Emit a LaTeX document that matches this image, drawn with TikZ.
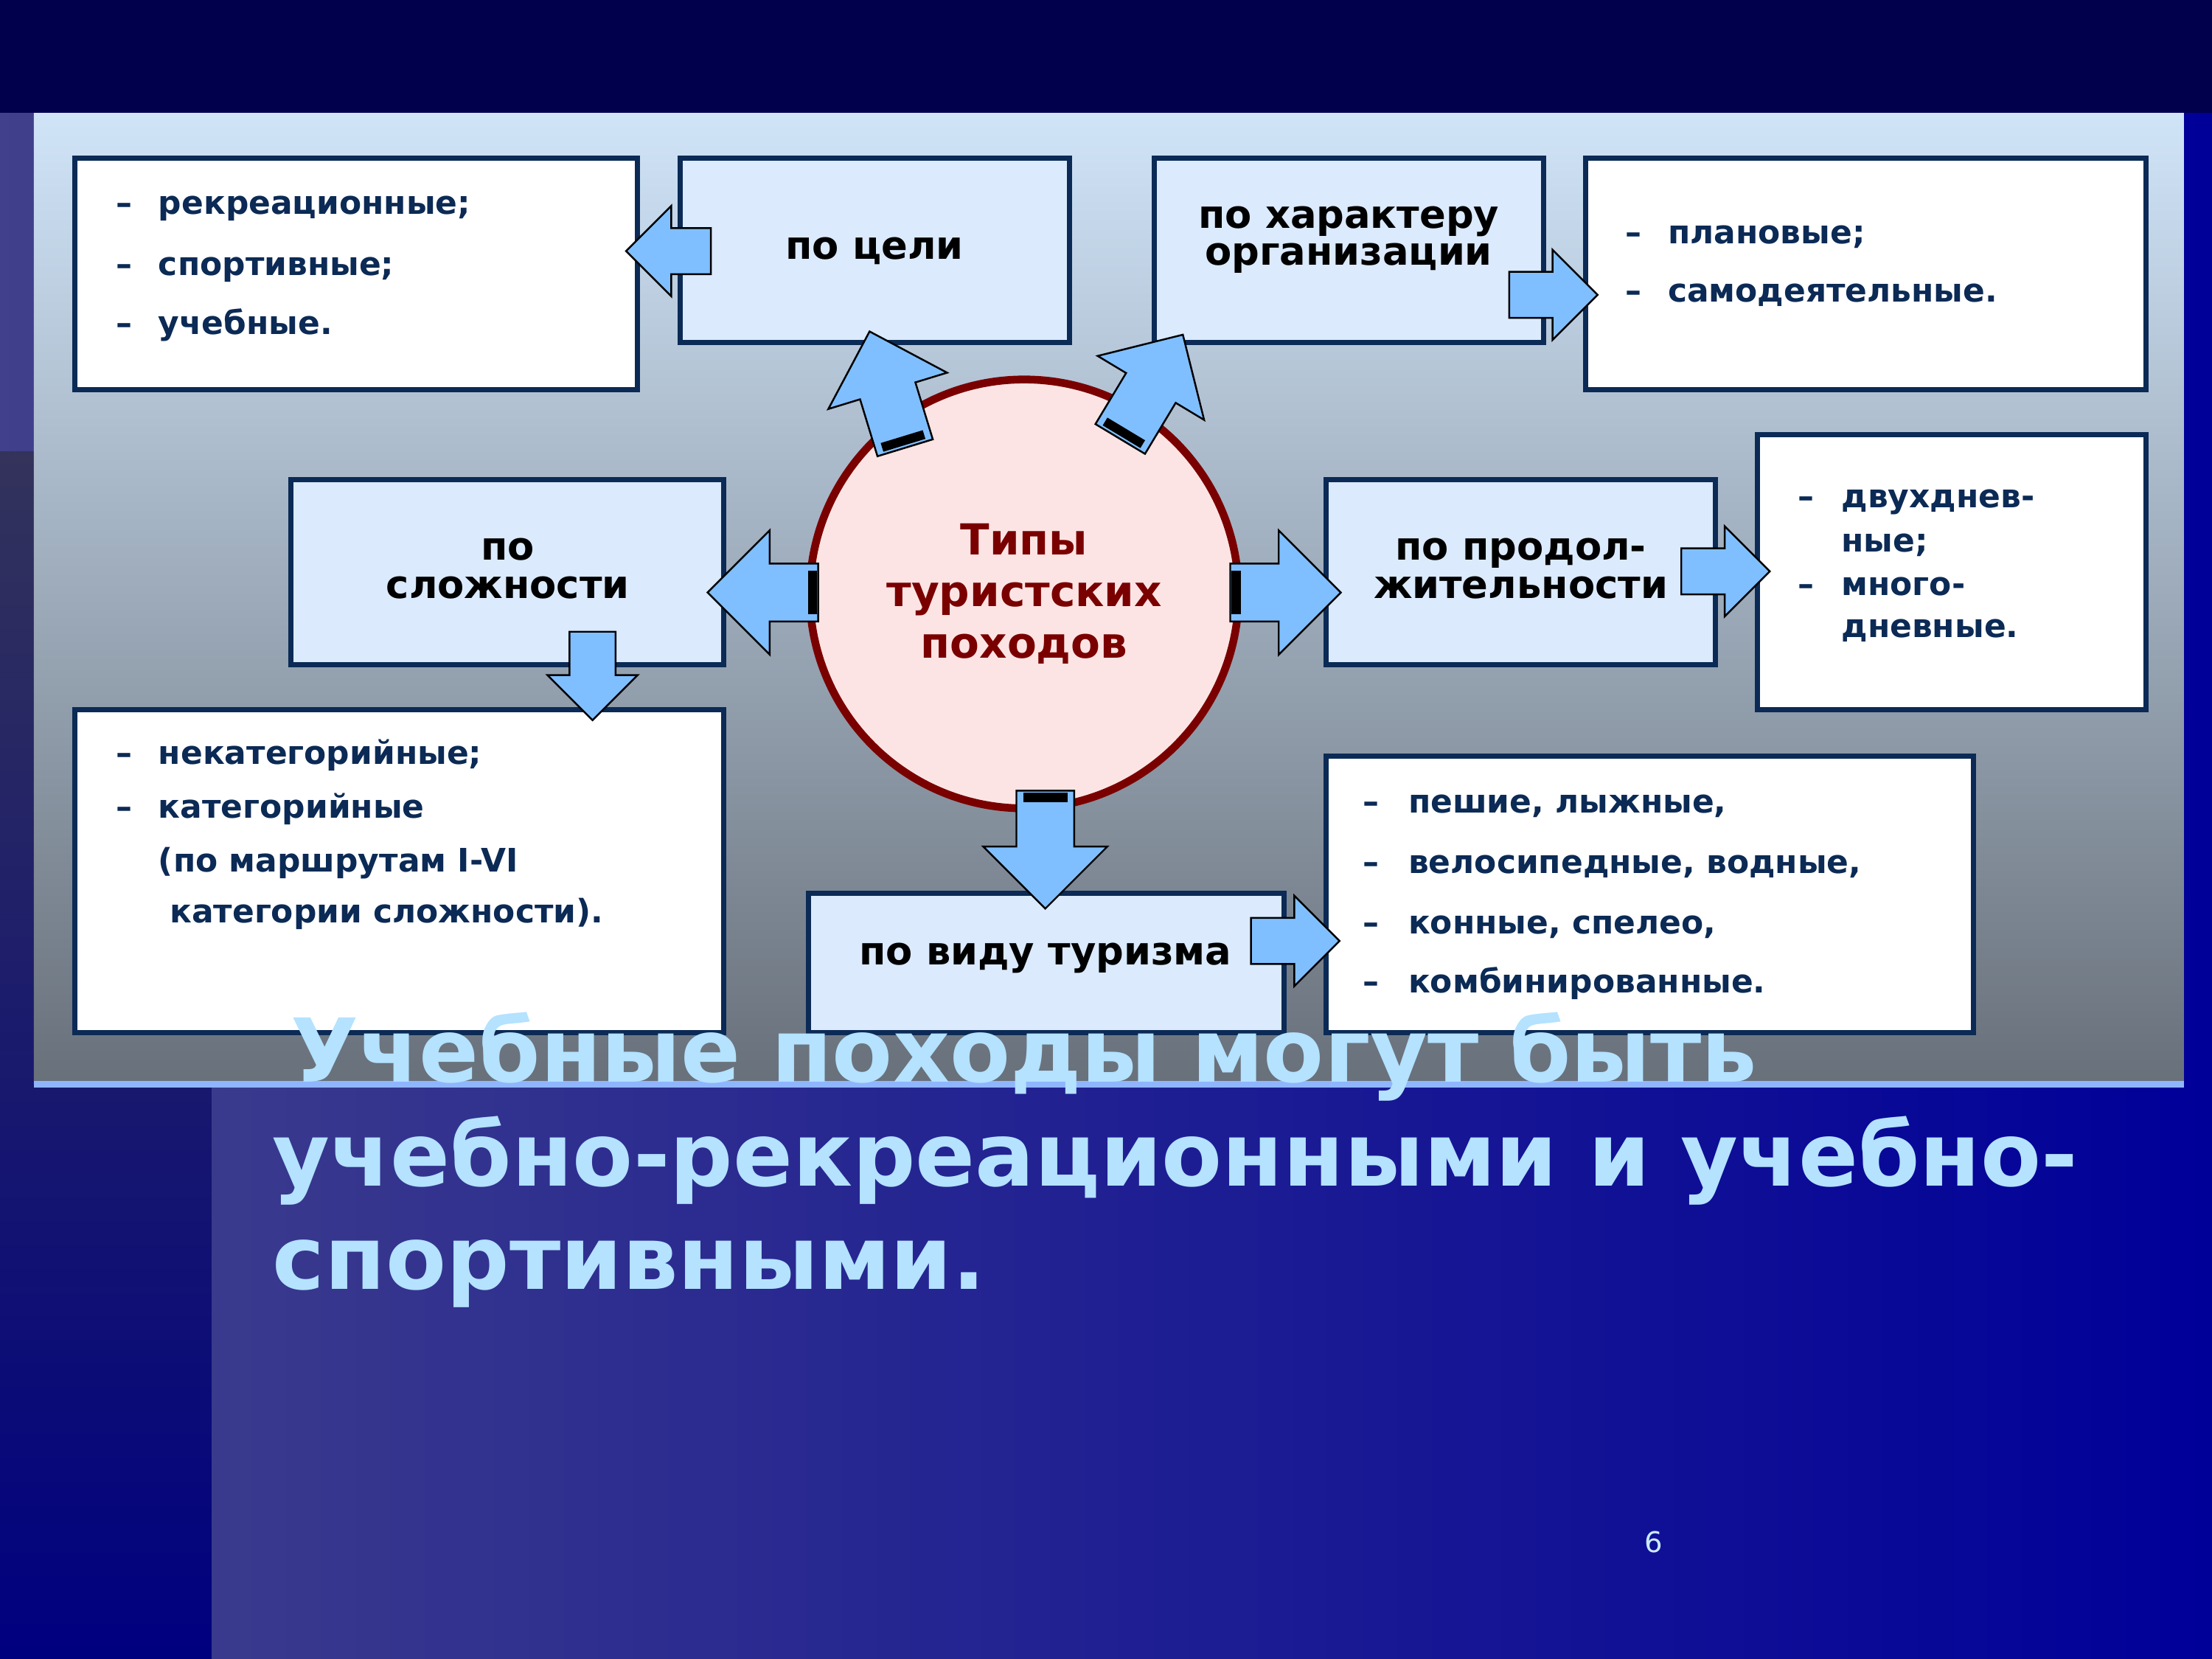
\documentclass[tikz,border=0pt]{standalone}
\usepackage{fontspec}
\setmainfont{DejaVu Sans}
\usetikzlibrary{shapes.arrows,calc}
\definecolor{navy}{HTML}{0B2A55}
\definecolor{boxblue}{HTML}{DBEAFC}
\definecolor{arrowblue}{HTML}{80BFFF}
\definecolor{darkred}{HTML}{7A0000}
\definecolor{titleblue}{HTML}{B4E2FF}
\tikzset{
  head/.style={draw=navy, line width=2pt, fill=boxblue},
  listbox/.style={draw=navy, line width=2pt, fill=white},
  headtext/.style={font=\bfseries\fontsize{15}{17}\selectfont, align=center, text=black},
  entry/.style={anchor=base west, font=\bfseries\fontsize{12.5}{15}\selectfont, text=navy, inner sep=0pt},
  blockarrow/.style={single arrow, draw=black, fill=arrowblue, line width=0.7pt,
    inner sep=0.3cm, single arrow head extend=0.3cm, single arrow head indent=0pt,
    minimum height=#1, outer sep=0pt},
  widearrow/.style={blockarrow=#1, inner sep=0.38cm, single arrow head extend=0.45cm}
}
\begin{document}
\begin{tikzpicture}[x=0.019133cm, y=-0.019133cm]
\useasboundingbox (0,0) rectangle (1568,1176);
% background
\shade[left color=black!60!blue!75, right color=blue!60!black] (0,0) rectangle (1568,1176);
\fill[blue!30!black] (0,0) rectangle (1568,80);
\shade[top color=blue!20!black!80, bottom color=blue!50!black] (0,320) rectangle (150,1176);
% panel
\shade[top color={rgb,255:red,208;green,228;blue,248}, middle color={rgb,255:red,160;green,176;blue,196},
  bottom color={rgb,255:red,104;green,112;blue,122}] (24,80) rectangle (1548,768);
\fill[titleblue!80!blue] (24,766) rectangle (1548,771);

% boxes
\draw[listbox] (53,112) rectangle (452,276);
\draw[head] (482,112) rectangle (758,243);
\node[headtext] (cel) at (620,178) {по цели};
\draw[head] (818,112) rectangle (1094,243);
\node[headtext] (org) at (956,170) {по характеру\\[-3pt]организации};
\draw[listbox] (1124,112) rectangle (1521,276);
\draw[head] (206,340) rectangle (513,471);
\node[headtext] (slo) at (360,403) {по\\[-2pt]сложности};
\draw[head] (940,340) rectangle (1216,471);
\node[headtext] (pro) at (1078,403) {по продол-\\[-2pt]жительности};
\draw[listbox] (1246,308) rectangle (1521,503);
\draw[listbox] (53,503) rectangle (513,732);
\draw[head] (573,633) rectangle (910,732);
\node[headtext] (vid) at (741,679) {по виду туризма};
\draw[listbox] (940,536) rectangle (1399,732);

% centre
\node[circle, draw=darkred, line width=3pt, fill={rgb,255:red,253;green,228;blue,228},
  minimum size=304*0.019133cm, inner sep=0pt, align=center, text=darkred,
  font=\bfseries\fontsize{16.5}{20}\selectfont] (tip) at (726,421) {Типы\\туристских\\походов};

% lists
\foreach \y/\t in {152/рекреационные;, 195/спортивные;, 237/учебные.}
  {\node[entry] at (82,\y) {–}; \node[entry] at (112,\y) {\t};}
\foreach \y/\t in {173/плановые;, 214/самодеятельные.}
  {\node[entry] at (1152,\y) {–}; \node[entry] at (1182,\y) {\t};}
\node[entry] at (1274,360) {–}; \node[entry] at (1305,360) {двухднев-};
\node[entry] at (1305,391) {ные;};
\node[entry] at (1274,422) {–}; \node[entry] at (1305,422) {много-};
\node[entry] at (1305,452) {дневные.};
\node[entry] at (82,542) {–}; \node[entry] at (112,542) {некатегорийные;};
\node[entry] at (82,580) {–}; \node[entry] at (112,580) {категорийные};
\node[entry] at (112,618) {(по маршрутам I-VI};
\node[entry] at (120,654) {категории сложности).};
\foreach \y/\t in {576/{пешие, лыжные,}, 619/{велосипедные, водные,}, 662/{конные, спелео,}, 704/комбинированные.}
  {\node[entry] at (966,\y) {–}; \node[entry] at (998,\y) {\t};}

% arrows
\node[blockarrow=1.15cm, shape border rotate=180] (a1) at (482,178) {};
\node[blockarrow=1.2cm] (a2) at (1093,209) {};
\node[blockarrow=1.2cm] (a3) at (1215,405) {};
\node[blockarrow=1.2cm] (a4) at (910,667) {};
\node[blockarrow=1.2cm, shape border rotate=270] (a5) at (420,471) {};
\node[widearrow=1.5cm, shape border rotate=180] (a6) at (551,420) {};
\node[widearrow=1.5cm] (a7) at (901,420) {};
\node[widearrow=1.6cm, shape border rotate=270] (a8) at (741,592) {};
\node[widearrow=1.65cm, rotate=107] (a9) at (632,286) {};
\node[widearrow=1.65cm, rotate=59] (a10) at (811,283) {};
\foreach \a in {a6,a7,a8,a9,a10}
  \draw[line width=3.5pt, line cap=butt] ($(\a.before tail)!0.12!(\a.before head)$) -- ($(\a.after tail)!0.12!(\a.after head)$);

% caption
\node[anchor=base west, text=titleblue, align=left, font=\bfseries\fontsize{34}{40}\selectfont, inner sep=0pt]
  (cap) at (193,914) {\hspace{7pt}Учебные походы могут быть\\учебно-рекреационными и учебно-\\спортивными.};
\node[text=titleblue!70!white, font=\fontsize{11}{13}\selectfont] (num) at (1172,1093) {6};
\end{tikzpicture}
\end{document}
